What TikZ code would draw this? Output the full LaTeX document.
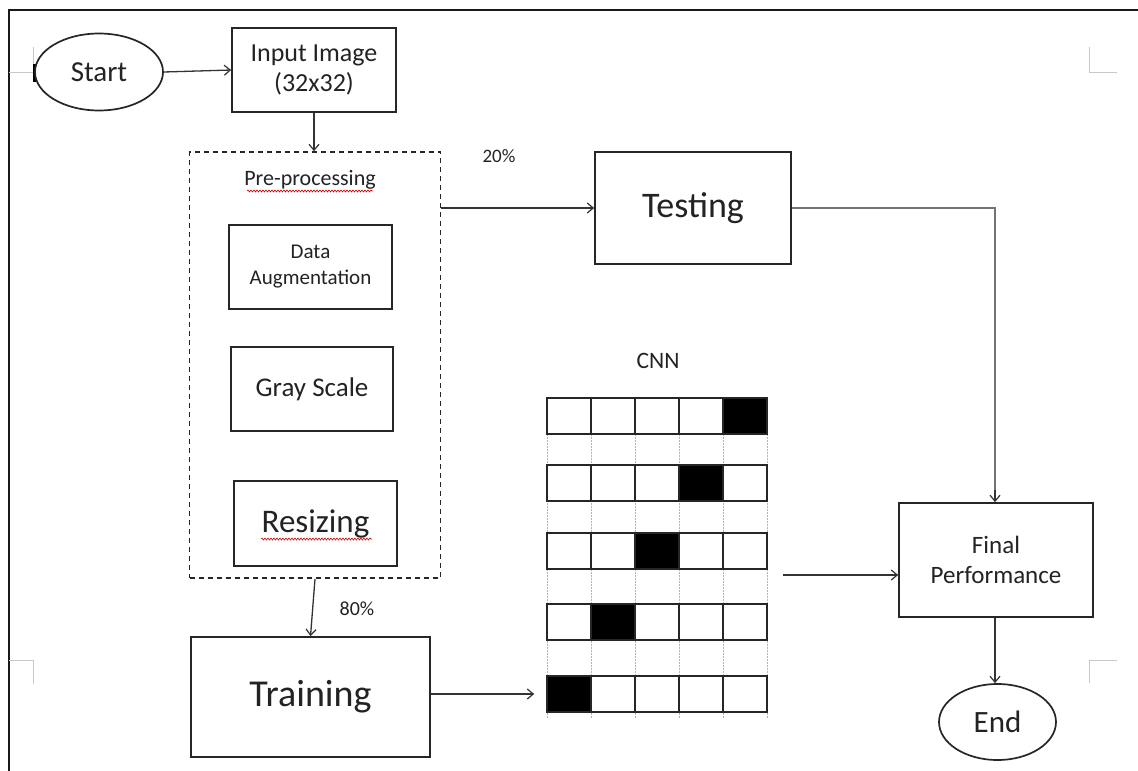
\documentclass[tikz,border=0pt]{standalone}
\usepackage{fontspec}
\setmainfont{Carlito}
\usetikzlibrary{arrows.meta,decorations.pathmorphing,shapes.geometric}
\definecolor{txt}{RGB}{35,35,35}
\definecolor{mark}{RGB}{200,200,200}
\tikzset{
  box/.style={draw=black!85, line width=1.7pt, rectangle, align=center, text=txt, inner sep=0pt},
  oval/.style={draw=black!85, line width=1.7pt, ellipse, text=txt, inner sep=0pt},
  arr/.style={draw=black!80, line width=1.3pt, -{Straight Barb[length=6pt,width=10pt,line width=1.2pt]}},
  garr/.style={draw=black!55, line width=2.2pt},
  cell/.style={draw=black!85, line width=1.6pt, rectangle, minimum width=44pt, minimum height=36pt, inner sep=0pt},
  blk/.style={cell, fill=black},
  lbl/.style={text=txt, inner sep=0pt},
  wavy/.style={draw=red!80!black, line width=0.6pt, decorate, decoration={snake, amplitude=1pt, segment length=3pt}},
  gmark/.style={draw=mark, line width=1pt},
  gdot/.style={draw=black!30, line width=0.6pt, dash pattern=on 1.5pt off 1.5pt}
}
\begin{document}
\begin{tikzpicture}[x=1pt,y=-1pt]
\useasboundingbox (0,0) rectangle (1138,771);
\fill[white] (0,0) rectangle (1138,771);
% frame
\draw[black!90, line width=2pt] (9,771) -- (9,10) -- (1138,10);
% corner marks
\draw[gmark] (9,72) -- (33,72) -- (33,47);
\draw[gmark] (1089,47) -- (1089,72) -- (1117,72);
\draw[gmark] (9,660) -- (33,660) -- (33,684);
\draw[gmark] (1089,683) -- (1089,660) -- (1117,660);
\draw[black, line width=3pt] (34,64) -- (34,82);

% nodes
\node[oval, minimum width=128pt, minimum height=77pt, font=\fontsize{29}{30}\selectfont] (start) at (99,72) {Start};
\node[box, minimum width=164pt, minimum height=84pt, font=\fontsize{26}{30}\selectfont] (input) at (314,70) {Input Image\\(32x32)};
\node[draw=black!85, line width=1.6pt, dash pattern=on 5pt off 4pt, rectangle, minimum width=251pt, minimum height=426pt, inner sep=0pt] (pre) at (315,365) {};
\node[lbl, font=\fontsize{22}{24}\selectfont] (pretxt) at (310,180) {Pre-processing};
\draw[wavy] (247,191) -- (373,191);
\node[box, minimum width=163pt, minimum height=84pt, font=\fontsize{21}{26}\selectfont] (aug) at (310.5,267) {Data\\Augmentation};
\node[box, minimum width=162pt, minimum height=84pt, font=\fontsize{27}{30}\selectfont] (gray) at (312,389) {Gray Scale};
\node[box, minimum width=163pt, minimum height=85pt, font=\fontsize{33}{36}\selectfont] (resize) at (315.5,523.5) {Resizing};
\draw[wavy] (261,539) -- (372,539);

\node[box, minimum width=239pt, minimum height=120pt, font=\fontsize{38}{40}\selectfont] (train) at (310.5,697) {Training};
\node[box, minimum width=196pt, minimum height=112pt, font=\fontsize{36}{40}\selectfont] (test) at (693,208) {Testing};
\node[box, minimum width=194pt, minimum height=114pt, font=\fontsize{25}{30}\selectfont] (final) at (996,560) {Final\\Performance};
\node[oval, minimum width=117pt, minimum height=76pt, font=\fontsize{31}{32}\selectfont] (end) at (997.5,722) {End};

\node[lbl, font=\fontsize{19}{20}\selectfont] (p20) at (499,156) {20\%};
\node[lbl, font=\fontsize{20}{20}\selectfont] (p80) at (357,609) {80\%};
\node[lbl, font=\fontsize{23.5}{24}\selectfont] (cnn) at (658,361) {CNN};

% CNN grid
\foreach \x in {547,591,635,679,723,767} {\draw[gdot] (\x,398) -- (\x,718);}
\foreach \r/\y/\b in {1/416/5,2/483/4,3/551/3,4/622/2,5/694/1} {
  \foreach \c in {1,...,5} {
    \pgfmathtruncatemacro{\isb}{\c==\b ? 1 : 0}
    \ifnum\isb=1
      \node[blk] (cell\r\c) at ({525+44*\c},\y) {};
    \else
      \node[cell] (cell\r\c) at ({525+44*\c},\y) {};
    \fi
  }
}
\coordinate (cnnout) at (783,575);

% connectors
\draw[arr] (start.east) -- (input.west);
\draw[arr] (input.south) -- (input.south |- pre.north);
\draw[arr] (pre.east |- test.west) -- (test.west);
\draw[arr] (315,579) -- (train.north);
\draw[arr] (train.east |- cell51.west) -- ([xshift=-12pt]cell51.west);
\draw[garr] (test.east) -- (995,208) -- (995,497);
\draw[arr] (995,490) -- (final.north -| 995,0);
\draw[arr] (cnnout) -- (final.west |- cnnout);
\draw[arr] (final.south -| 995,0) -- (end.north -| 995,0);
\end{tikzpicture}
\end{document}
